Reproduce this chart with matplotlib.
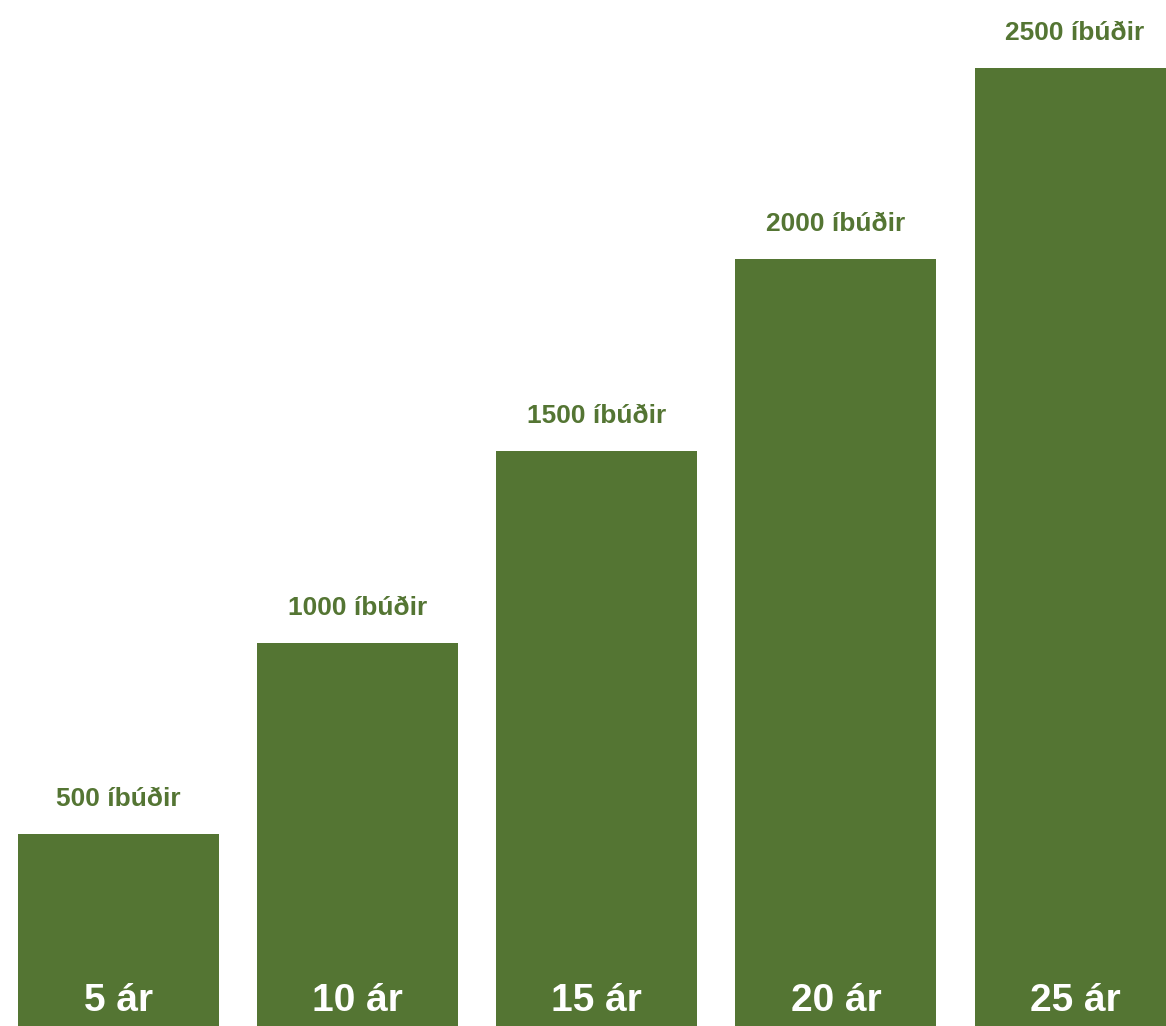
import matplotlib.pyplot as plt

# data
years = ["5 ár", "10 ár", "15 ár", "20 ár", "25 ár"]
units = [500, 1000, 1500, 2000, 2500]
labels = ["500 íbúðir", "1000 íbúðir", "1500 íbúðir", "2000 íbúðir", "2500 íbúðir"]

green = "#547533"
plt.rcParams['font.family'] = ['Liberation Sans', 'DejaVu Sans']

fig = plt.figure(figsize=(11.66, 10.26), dpi=100)
ax = fig.add_axes([0, 0, 1, 1])

x = range(len(units))
ax.bar(x, units, width=0.84, color=green)

# value labels above bars, year labels inside at bottom
for i, v in enumerate(units):
    ax.annotate(labels[i], (i, v), xytext=(0, 28), textcoords="offset pixels",
                ha="center", va="baseline", fontsize=19, fontweight="bold", color=green)
    ax.annotate(years[i], (i, 0), xytext=(0, 15), textcoords="offset pixels",
                ha="center", va="baseline", fontsize=28, fontweight="bold", color="white")

ax.set_xlim(-0.495, 4.38)
ax.set_ylim(0, 2677)
ax.axis("off")

fig.savefig("out.png", dpi=100)
